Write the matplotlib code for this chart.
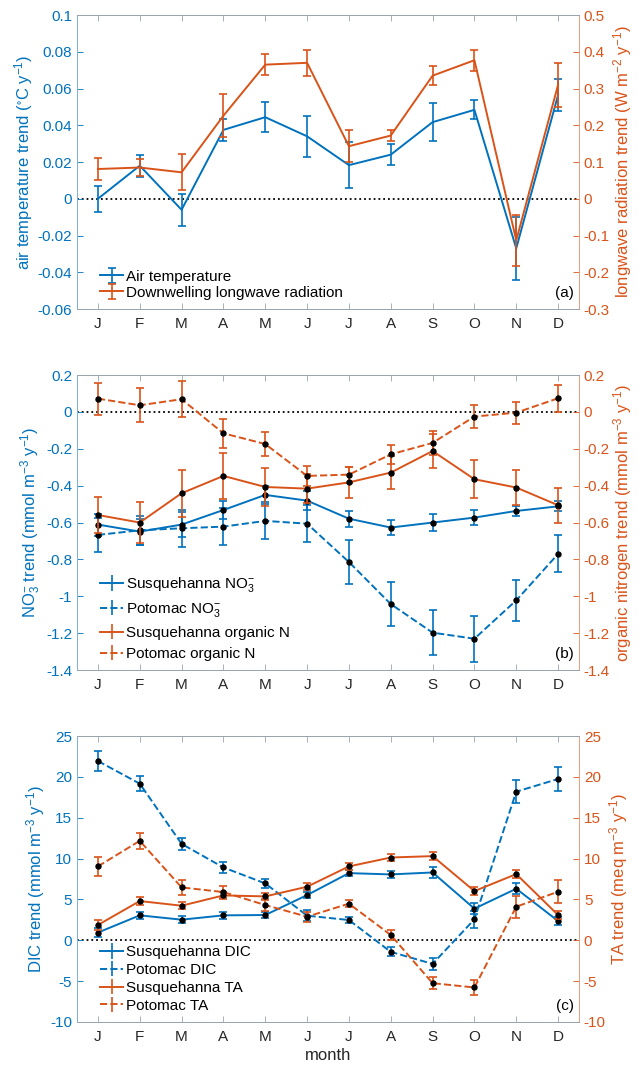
import matplotlib
matplotlib.use("Agg")
import matplotlib.pyplot as plt
import numpy as np
from matplotlib.ticker import FuncFormatter

plt.rcParams['font.family'] = ['Liberation Sans', 'DejaVu Sans']
plt.rcParams['mathtext.fontset'] = 'custom'
plt.rcParams['mathtext.rm'] = 'Liberation Sans'
plt.rcParams['mathtext.default'] = 'regular'
plt.rcParams['axes.unicode_minus'] = False

BLUE = '#0072BD'
ORANGE = '#D95319'

months = ['J', 'F', 'M', 'A', 'M', 'J', 'J', 'A', 'S', 'O', 'N', 'D']

# panel (a)
air_temp = [0.0, 0.018, -0.006, 0.0375, 0.0444, 0.034, 0.0183, 0.024, 0.0417, 0.0484, -0.027, 0.0565]
air_temp_err = [0.007, 0.006, 0.0087, 0.006, 0.008, 0.011, 0.0127, 0.0057, 0.0103, 0.0052, 0.017, 0.0085]
lw_rad = [0.081, 0.085, 0.072, 0.226, 0.365, 0.370, 0.143, 0.172, 0.335, 0.377, -0.113, 0.31]
lw_rad_err = [0.03, 0.024, 0.049, 0.059, 0.029, 0.036, 0.044, 0.016, 0.025, 0.028, 0.069, 0.059]

# panel (b)
susq_no3 = [-0.611, -0.649, -0.611, -0.532, -0.45, -0.481, -0.579, -0.627, -0.600, -0.573, -0.537, -0.512]
susq_no3_err = [0.06, 0.07, 0.07, 0.05, 0.05, 0.05, 0.043, 0.04, 0.048, 0.042, 0.028, 0.027]
poto_no3 = [-0.667, -0.642, -0.631, -0.622, -0.591, -0.606, -0.814, -1.042, -1.197, -1.230, -1.022, -0.770]
poto_no3_err = [0.09, 0.08, 0.1, 0.1, 0.1, 0.1, 0.12, 0.12, 0.122, 0.125, 0.11, 0.1]
susq_orgn = [-0.559, -0.600, -0.441, -0.347, -0.407, -0.416, -0.382, -0.329, -0.212, -0.365, -0.410, -0.506]
susq_orgn_err = [0.1, 0.11, 0.127, 0.123, 0.104, 0.08, 0.083, 0.09, 0.09, 0.104, 0.096, 0.094]
poto_orgn = [0.072, 0.036, 0.069, -0.116, -0.174, -0.347, -0.340, -0.230, -0.168, -0.025, -0.004, 0.074]
poto_orgn_err = [0.086, 0.092, 0.098, 0.078, 0.066, 0.054, 0.043, 0.052, 0.063, 0.063, 0.06, 0.072]

# panel (c)
susq_dic = [0.94, 3.05, 2.52, 3.05, 3.09, 5.53, 8.22, 8.06, 8.30, 3.87, 6.31, 2.36]
susq_dic_err = [0.6, 0.45, 0.4, 0.45, 0.4, 0.4, 0.4, 0.45, 0.7, 0.65, 0.65, 0.5]
poto_dic = [21.94, 19.17, 11.8, 8.91, 6.96, 3.01, 2.48, -1.42, -2.89, 2.56, 18.19, 19.74]
poto_dic_err = [1.28, 0.9, 0.75, 0.7, 0.6, 0.65, 0.4, 0.55, 0.75, 1.0, 1.38, 1.5]
susq_ta = [1.87, 4.8, 4.23, 5.49, 5.37, 6.55, 9.04, 10.13, 10.3, 6.02, 8.1, 3.09]
susq_ta_err = [0.6, 0.5, 0.4, 0.45, 0.4, 0.4, 0.4, 0.4, 0.45, 0.5, 0.5, 0.45]
poto_ta = [9.04, 12.17, 6.47, 5.9, 4.31, 2.89, 4.48, 0.65, -5.25, -5.78, 4.11, 5.94]
poto_ta_err = [1.18, 1.0, 0.9, 0.75, 0.7, 0.6, 0.45, 0.65, 0.75, 0.9, 1.35, 1.4]

x = np.arange(1, 13)


def fmt(v, pos):
    v = round(v, 6)
    if abs(v) < 1e-9:
        return '0'
    return f'{v:g}'


def style_axes(ax, tw, ylim_l, step_l, ylim_r, step_r, ylabel_l, ylabel_r, show_month):
    ax.set_xlim(0.5, 12.5)
    ax.set_xticks(x)
    ax.set_xticklabels(months, fontsize=11, color='#262626')
    ax.set_ylim(*ylim_l)
    ax.set_yticks(np.arange(ylim_l[0], ylim_l[1] + step_l / 2, step_l))
    ax.yaxis.set_major_formatter(FuncFormatter(fmt))
    tw.set_ylim(*ylim_r)
    tw.set_yticks(np.arange(ylim_r[0], ylim_r[1] + step_r / 2, step_r))
    tw.yaxis.set_major_formatter(FuncFormatter(fmt))
    ax.tick_params(axis='x', direction='in', top=True, length=4, width=0.6, color='#9aa4ad', pad=6)
    ax.tick_params(axis='y', direction='in', length=4, width=0.6, colors=BLUE, labelsize=11)
    tw.tick_params(axis='y', direction='in', length=4, width=0.6, colors=ORANGE, labelsize=11)
    for a in (ax, tw):
        a.spines['top'].set_color('#9aa4ad')
        a.spines['bottom'].set_color('#9aa4ad')
        a.spines['left'].set_color('#7fb2d6')
        a.spines['right'].set_color('#e8a07f')
        for s in a.spines.values():
            s.set_linewidth(0.7)
    ax.set_ylabel(ylabel_l, color=BLUE, fontsize=12, labelpad=2)
    tw.set_ylabel(ylabel_r, color=ORANGE, fontsize=12, labelpad=1)
    ax.axhline(0, color='black', ls=':', lw=1.3, zorder=1)
    if show_month:
        ax.set_xlabel('month', fontsize=12, color='#262626', labelpad=3)


fig = plt.figure(figsize=(6.39, 10.67), dpi=100)

L, W = 0.1205, 0.7856
eb_kw = dict(capsize=3, elinewidth=1.2, capthick=1.2, lw=1.4)
dot_kw = dict(marker='o', ms=3.6, mfc='black', mec='black')
leg_kw = dict(loc='lower left', bbox_to_anchor=(0.028, 0.0), frameon=False, fontsize=11,
              handlelength=1.5, handletextpad=0.2, borderaxespad=0.2)

# (a)
ax1 = fig.add_axes([L, 0.7104, W, 0.2755])
tw1 = ax1.twinx()
h1 = ax1.errorbar(x, air_temp, yerr=air_temp_err, color=BLUE, **eb_kw)
h2 = tw1.errorbar(x, lw_rad, yerr=lw_rad_err, color=ORANGE, **eb_kw)
style_axes(ax1, tw1, (-0.06, 0.1), 0.02, (-0.3, 0.5), 0.1,
           'air temperature trend ($^{\\circ}$C y$^{-1}$)',
           'longwave radiation trend (W m$^{-2}$ y$^{-1}$)', False)
tw1.legend([h1, h2], ['Air temperature', 'Downwelling longwave radiation'],
           labelspacing=0.15, **leg_kw)
tw1.text(0.99, 0.03, '(a)', transform=tw1.transAxes, ha='right', va='bottom', fontsize=11)

# (b)
ax2 = fig.add_axes([L, 0.372, W, 0.2765])
tw2 = ax2.twinx()
ax2.errorbar(x, susq_no3, yerr=susq_no3_err, color=BLUE, **eb_kw, **dot_kw)
ax2.errorbar(x, poto_no3, yerr=poto_no3_err, color=BLUE, ls='--', **eb_kw, **dot_kw)
tw2.errorbar(x, susq_orgn, yerr=susq_orgn_err, color=ORANGE, **eb_kw, **dot_kw)
tw2.errorbar(x, poto_orgn, yerr=poto_orgn_err, color=ORANGE, ls='--', **eb_kw, **dot_kw)
style_axes(ax2, tw2, (-1.4, 0.2), 0.2, (-1.4, 0.2), 0.2,
           'NO$_3^{-}$ trend (mmol m$^{-3}$ y$^{-1}$)',
           'organic nitrogen trend (mmol m$^{-3}$ y$^{-1}$)', False)
lg_b = [ax2.errorbar([], [], yerr=[], color=BLUE, **eb_kw),
        ax2.errorbar([], [], yerr=[], color=BLUE, ls='--', **eb_kw),
        tw2.errorbar([], [], yerr=[], color=ORANGE, **eb_kw),
        tw2.errorbar([], [], yerr=[], color=ORANGE, ls='--', **eb_kw)]
tw2.legend(lg_b, ['Susquehanna NO$_3^{-}$', 'Potomac NO$_3^{-}$',
                  'Susquehanna organic N', 'Potomac organic N'],
           labelspacing=0.45, **leg_kw)
tw2.text(0.99, 0.03, '(b)', transform=tw2.transAxes, ha='right', va='bottom', fontsize=11)

# (c)
ax3 = fig.add_axes([L, 0.0422, W, 0.268])
tw3 = ax3.twinx()
ax3.errorbar(x, susq_dic, yerr=susq_dic_err, color=BLUE, **eb_kw, **dot_kw)
ax3.errorbar(x, poto_dic, yerr=poto_dic_err, color=BLUE, ls='--', **eb_kw, **dot_kw)
tw3.errorbar(x, susq_ta, yerr=susq_ta_err, color=ORANGE, **eb_kw, **dot_kw)
tw3.errorbar(x, poto_ta, yerr=poto_ta_err, color=ORANGE, ls='--', **eb_kw, **dot_kw)
style_axes(ax3, tw3, (-10, 25), 5, (-10, 25), 5,
           'DIC trend (mmol m$^{-3}$ y$^{-1}$)',
           'TA trend (meq m$^{-3}$ y$^{-1}$)', True)
lg_c = [ax3.errorbar([], [], yerr=[], color=BLUE, **eb_kw),
        ax3.errorbar([], [], yerr=[], color=BLUE, ls='--', **eb_kw),
        tw3.errorbar([], [], yerr=[], color=ORANGE, **eb_kw),
        tw3.errorbar([], [], yerr=[], color=ORANGE, ls='--', **eb_kw)]
tw3.legend(lg_c, ['Susquehanna DIC', 'Potomac DIC', 'Susquehanna TA', 'Potomac TA'],
           labelspacing=0.25, **leg_kw)
tw3.text(0.99, 0.03, '(c)', transform=tw3.transAxes, ha='right', va='bottom', fontsize=11)

fig.savefig('out.png', dpi=100)
plt.close(fig)
